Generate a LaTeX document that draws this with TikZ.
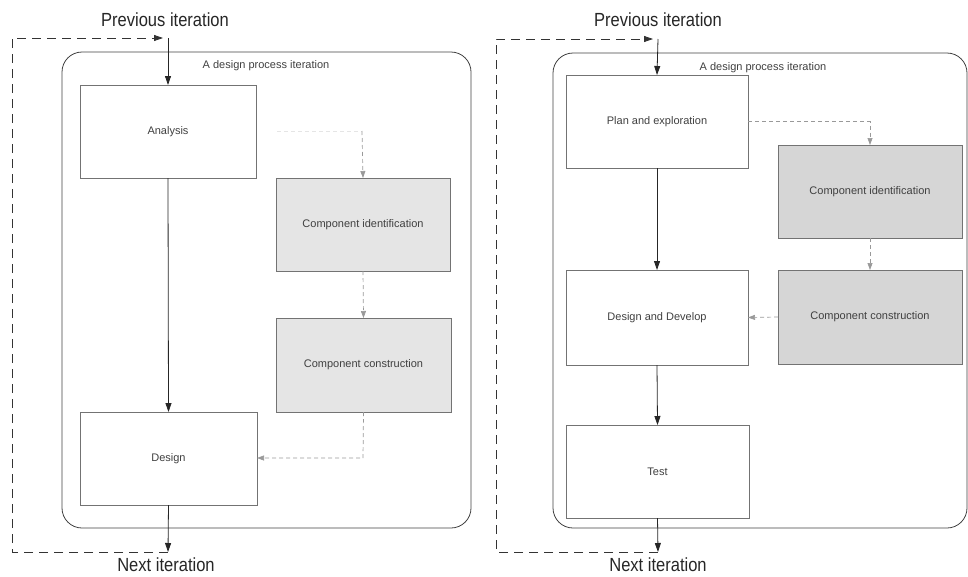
\documentclass[tikz,border=0pt]{standalone}
\usepackage{fontspec}
\setmainfont{Liberation Sans}
\usetikzlibrary{arrows.meta}
\begin{document}
\begin{tikzpicture}[x=1pt,y=-1pt,
  every node/.style={inner sep=0pt, outer sep=0pt},
  frame/.style={draw=black!75, line width=0.8pt, rounded corners=20pt},
  stepbox/.style={draw=black!55, line width=0.7pt, fill=white, font=\fontsize{11}{13}\selectfont, text=black!75},
  compbox/.style={stepbox, fill=black!10},
  compboxdark/.style={stepbox, fill=black!16},
  heading/.style={font=\fontsize{19}{22}\selectfont, text=black!85, xscale=0.87},
  caption/.style={font=\fontsize{11}{13}\selectfont, text=black!75},
  flow/.style={draw=black!85, line width=0.8pt, -{Triangle[length=9pt,width=6pt]}},
  side/.style={draw=black!40, line width=0.7pt, dash pattern=on 4pt off 3pt, -{Triangle[length=7pt,width=5pt]}},
  faint/.style={draw=black!10, line width=0.6pt, dash pattern=on 4pt off 3pt},
  loop/.style={draw=black!80, line width=0.8pt, dash pattern=on 9pt off 6pt, -{Triangle[length=9pt,width=6pt]}}
]
\useasboundingbox (0,0) rectangle (968,576);

% ---------------- left process ----------------
\node[heading] (prevL) at (165,20) {Previous iteration};
\node[heading] (nextL) at (166,565) {Next iteration};
\node[frame, minimum width=409pt, minimum height=476pt] (frameL) at (266.5,290) {};
\node[caption] (capL) at (266,66) {A design process iteration};

\node[stepbox, minimum width=176pt, minimum height=93pt] (analysis) at (168,131.5) {Analysis};
\node[stepbox, minimum width=177pt, minimum height=93pt] (design) at (168.5,458.5) {Design};
\node[compbox, minimum width=174pt, minimum height=93pt] (identL) at (363,224.5) {Component identification};
\node[compbox, minimum width=175pt, minimum height=94pt] (constrL) at (363.5,365) {Component construction};

\coordinate (topL) at (168,38);
\coordinate (botL) at (168,552);
\coordinate (cornerTL) at (12,38);
\coordinate (cornerBL) at (12,552);
\coordinate (tapL) at (362,131);
\coordinate (tapLfrom) at (277,131);
\coordinate (turnL) at (363,458);

\draw[flow] (topL) -- (analysis.north);
\draw[flow] (analysis.south) -- (design.north);
\draw[flow] (design.south) -- (botL);
\draw[loop] (botL) -- (cornerBL) -- (cornerTL) -- ([xshift=-5pt]topL);

\draw[faint] (tapLfrom) -- (tapL);
\draw[side] (tapL) -- (identL.north);
\draw[side] (identL.south) -- (constrL.north);
\draw[side] (constrL.south) -- (turnL) -- (design.east |- turnL);

% ---------------- right process ----------------
\node[heading] (prevR) at (658,20) {Previous iteration};
\node[heading] (nextR) at (658,565) {Next iteration};
\node[frame, minimum width=414pt, minimum height=475pt] (frameR) at (760,290.5) {};
\node[caption] (capR) at (763,68) {A design process iteration};

\node[stepbox, minimum width=182pt, minimum height=93pt] (plan) at (657,121.5) {Plan and exploration};
\node[stepbox, minimum width=182pt, minimum height=95pt] (develop) at (657,317.5) {Design and Develop};
\node[stepbox, minimum width=183pt, minimum height=93pt] (test) at (657.5,471.5) {Test};
\node[compboxdark, minimum width=184pt, minimum height=93pt] (identR) at (870,191.5) {Component identification};
\node[compboxdark, minimum width=184pt, minimum height=94pt] (constrR) at (870,317) {Component construction};

\coordinate (topR) at (658,39);
\coordinate (botR) at (658,552);
\coordinate (cornerTR) at (496,39);
\coordinate (cornerBR) at (496,552);

\draw[flow] (topR) -- (plan.north);
\draw[flow] (plan.south) -- (develop.north);
\draw[flow] (develop.south) -- (test.north);
\draw[flow] (test.south) -- (botR);
\draw[loop] (botR) -- (cornerBR) -- (cornerTR) -- ([xshift=-5pt]topR);

\draw[side] (plan.east) -| (identR.north);
\draw[side] (identR.south) -- (constrR.north);
\draw[side] (constrR.west) -- (develop.east);
\end{tikzpicture}
\end{document}
